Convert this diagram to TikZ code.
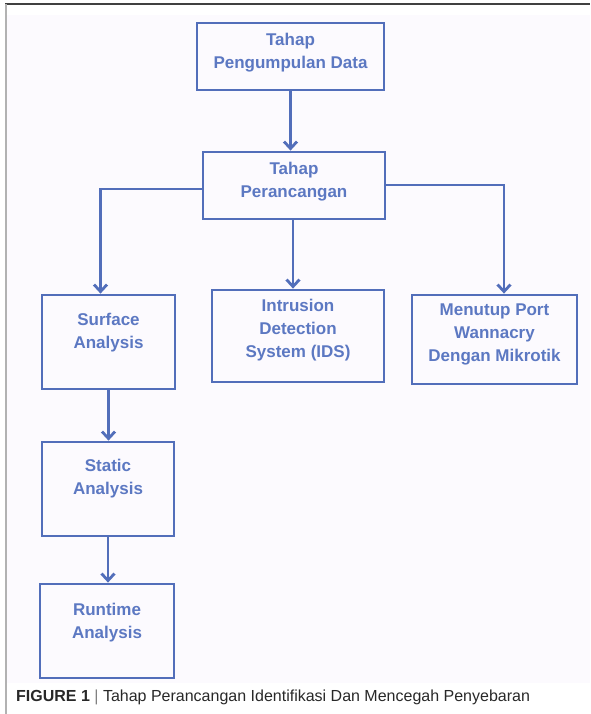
\documentclass[tikz,border=0pt]{standalone}
\usepackage{fontspec}
\setmainfont{Liberation Sans}
\usetikzlibrary{arrows.meta}
\definecolor{boxblue}{RGB}{82,110,186}
\definecolor{txtblue}{RGB}{92,120,194}
\definecolor{capgray}{RGB}{40,40,40}
\definecolor{bgtint}{RGB}{252,250,254}
\tikzset{
  boxnode/.style={draw=boxblue, line width=2.8pt, inner sep=0pt},
  txtnode/.style={text=txtblue, font=\fontsize{17}{23}\selectfont\bfseries, align=center, inner sep=0pt},
  arr/.style={draw=boxblue, line width=2.8pt, -{Straight Barb[length=7pt,width=13pt]}},
}
\begin{document}
\begin{tikzpicture}[x=1pt,y=-1pt]
\useasboundingbox (0,0) rectangle (590,714);
\fill[bgtint] (7,15) rectangle (590,683);
\draw[gray!50!black, line width=2pt] (5,4) -- (590,4);
\draw[gray!60, line width=1.5pt] (6,4) -- (6,714);

% boxes
\node[boxnode, minimum width=187pt, minimum height=67pt] (a) at (290.5,56.5) {};
\node[txtnode] at ([yshift=4pt]a.center) {Tahap\\Pengumpulan Data};

\node[boxnode, minimum width=182pt, minimum height=67pt] (b) at (294,185.5) {};
\node[txtnode] at ([yshift=4pt]b.center) {Tahap\\Perancangan};

\node[boxnode, minimum width=133pt, minimum height=94pt] (c) at (108.5,342) {};
\node[txtnode] at ([yshift=9pt]c.center) {Surface\\Analysis};

\node[boxnode, minimum width=172pt, minimum height=92pt] (d) at (298,336) {};
\node[txtnode] at ([yshift=6pt]d.center) {Intrusion\\Detection\\System (IDS)};

\node[boxnode, minimum width=165pt, minimum height=89pt] (e) at (494.5,339.5) {};
\node[txtnode] at ([yshift=5pt]e.center) {Menutup Port\\Wannacry\\Dengan Mikrotik};

\node[boxnode, minimum width=132pt, minimum height=94pt] (f) at (108,489) {};
\node[txtnode] at ([yshift=10pt]f.center) {Static\\Analysis};

\node[boxnode, minimum width=134pt, minimum height=94pt] (g) at (107,631) {};
\node[txtnode] at ([yshift=8pt]g.center) {Runtime\\Analysis};

% connectors
\draw[arr] (a.south) -- (a.south |- b.north);
\draw[arr] ([yshift=-3.5pt]b.west) -| ([xshift=-8pt]c.north);
\draw[arr] ([yshift=0.5pt]b.east) -| ([xshift=9.5pt]e.north);
\draw[arr] ([xshift=-1pt]b.south) -- ([xshift=-1pt]b.south |- d.north);
\draw[arr] (c.south) -- (c.south |- f.north);
\draw[arr] (f.south) -- (f.south |- g.north);

% caption
\node[anchor=base west, inner sep=0pt, text=capgray, font=\fontsize{16}{19}\selectfont] (cap) at (16,701)
  {\textbf{FIGURE 1} {\color{gray}|} Tahap Perancangan Identifikasi Dan Mencegah Penyebaran};
\end{tikzpicture}
\end{document}
